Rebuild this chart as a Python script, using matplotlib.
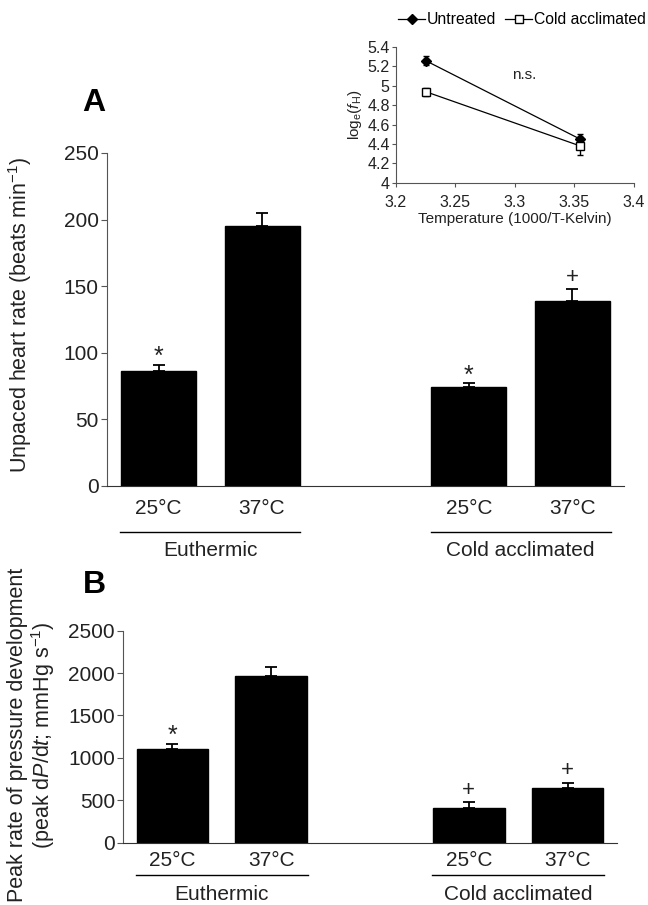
import matplotlib
matplotlib.use("Agg")
import matplotlib.pyplot as plt
from matplotlib.lines import Line2D
from matplotlib.transforms import ScaledTranslation
import numpy as np

plt.rcParams['font.family'] = ['Liberation Sans', 'DejaVu Sans']
plt.rcParams['mathtext.fontset'] = 'custom'
plt.rcParams['mathtext.rm'] = 'Liberation Sans'
plt.rcParams['mathtext.it'] = 'Liberation Sans:italic'

# ---- data ----
temps = ["25°C", "37°C", "25°C", "37°C"]
groups = ["Euthermic", "Cold acclimated"]
positions = [0, 1, 3, 4]

hr_mean = [86, 195, 74, 139]
hr_err = [5, 10, 3, 9]
hr_marks = ["*", "", "*", "+"]

dpdt_mean = [1108, 1970, 413, 641]
dpdt_err = [59, 105, 67, 67]
dpdt_marks = ["*", "", "+", "+"]

inset_x = [3.225, 3.355]
untreated_y = [5.26, 4.45]
untreated_err = [0.05, 0.05]
cold_y = [4.94, 4.38]
cold_err = [0.04, 0.09]

fig = plt.figure(figsize=(6.48, 9.05), dpi=100)
TXT = '#222222'


def px(v):
    return v / 100.0


def bar_panel(ax, means, errs, marks, ymax, ystep, off_tick, off_line, off_grp):
    ax.bar(positions, means, width=0.725, color='black', edgecolor='black', zorder=2)
    ax.errorbar(positions, means, yerr=[np.zeros(len(errs)), errs], fmt='none',
                ecolor='black', elinewidth=1.3, capsize=4.5, capthick=1.3, zorder=1)
    for p, m, e, s in zip(positions, means, errs, marks):
        if s == "*":
            ax.annotate(s, (p, m + e), xytext=(0, 0.5), textcoords='offset points',
                        ha='center', va='baseline', fontsize=18, color=TXT)
        elif s == "+":
            ax.annotate(s, (p, m + e), xytext=(0, 4.5), textcoords='offset points',
                        ha='center', va='baseline', fontsize=16, color=TXT)
    ax.set_xlim(-0.5, 4.5)
    ax.set_ylim(0, ymax)
    ax.set_yticks(np.arange(0, ymax + 1, ystep))
    ax.set_xticks(positions)
    ax.set_xticklabels(temps, fontsize=15, color=TXT)
    for lbl in ax.get_xticklabels():
        lbl.set_va('center')
    ax.tick_params(axis='x', length=0, pad=off_tick * 0.72)
    ax.tick_params(axis='y', labelsize=15, length=4.5, pad=1.5, direction='out',
                   colors='#555555', labelcolor=TXT)
    for s in ['top', 'right']:
        ax.spines[s].set_visible(False)
    ax.spines['left'].set_color('#555555')
    ax.spines['bottom'].set_color('#333333')
    trans = ax.get_xaxis_transform()
    for gi, (a, b) in enumerate([(0, 1), (3, 4)]):
        x0, x1 = a - 0.37, b + 0.37
        ax.plot([x0, x1], [0, 0], color='black', lw=1.0, clip_on=False,
                transform=trans + ScaledTranslation(0, -px(off_line), fig.dpi_scale_trans))
        ax.text((a + b) / 2, 0, groups[gi], ha='center', va='center', fontsize=15, color=TXT,
                transform=trans + ScaledTranslation(0, -px(off_grp), fig.dpi_scale_trans))


# Panel A
axA = fig.add_axes([0.165, 0.463, 0.798, 0.368])
bar_panel(axA, hr_mean, hr_err, hr_marks, 250, 50, 23, 46, 65)
fig.text(20 / 648, 1 - 315 / 905, "Unpaced heart rate (beats min$^{-1}$)", rotation=90,
         ha='center', va='center', fontsize=15.5, color=TXT)
fig.text(94 / 648, 1 - 103 / 905, "A", fontsize=23, fontweight='bold', ha='center', va='center')

# Panel B
axB = fig.add_axes([0.190, 0.0689, 0.762, 0.2342])
bar_panel(axB, dpdt_mean, dpdt_err, dpdt_marks, 2500, 500, 18, 32, 52)
fig.text(32 / 648, 1 - 735 / 905,
         "Peak rate of pressure development\n(peak d$\\mathit{P}$/d$\\mathit{t}$; mmHg s$^{-1}$)",
         rotation=90, ha='center', va='center', fontsize=15.5, color=TXT,
         linespacing=1.05, multialignment='center')
fig.text(94 / 648, 1 - 585 / 905, "B", fontsize=23, fontweight='bold', ha='center', va='center')

# Inset
axI = fig.add_axes([0.611, 0.798, 0.367, 0.150])
axI.errorbar(inset_x, untreated_y, yerr=untreated_err, fmt='-D', color='black', ms=5,
             mfc='black', lw=0.9, elinewidth=1.0, capsize=2.5)
axI.errorbar(inset_x, cold_y, yerr=cold_err, fmt='-s', color='black', ms=6,
             mfc='white', lw=0.9, elinewidth=1.0, capsize=2.5)
axI.set_xlim(3.2, 3.4)
axI.set_ylim(4.0, 5.4)
axI.set_xticks([3.2, 3.25, 3.3, 3.35, 3.4])
axI.set_xticklabels(["3.2", "3.25", "3.3", "3.35", "3.4"])
yt = [4.0, 4.2, 4.4, 4.6, 4.8, 5.0, 5.2, 5.4]
axI.set_yticks(yt)
axI.set_yticklabels(["4", "4.2", "4.4", "4.6", "4.8", "5", "5.2", "5.4"])
axI.tick_params(labelsize=11.5, length=3, direction='out', pad=1.5, colors='#555555',
                labelcolor=TXT)
axI.tick_params(axis='x', pad=5.5)
for s in ['top', 'right']:
    axI.spines[s].set_visible(False)
axI.spines['left'].set_color('#555555')
axI.spines['bottom'].set_color('#555555')
axI.set_xlabel("Temperature (1000/T-Kelvin)", fontsize=11, labelpad=1.5, color=TXT)
axI.set_ylabel("log$_\\mathregular{e}$($\\mathit{f}_\\mathregular{H}$)", fontsize=11,
               labelpad=2, color=TXT)
axI.text(3.308, 5.11, "n.s.", fontsize=11, ha='center', va='center', color=TXT)
handles = [
    Line2D([], [], color='black', lw=0.9, marker='D', ms=5, mfc='black'),
    Line2D([], [], color='black', lw=0.9, marker='s', ms=6, mfc='white'),
]
fig.legend(handles, ["Untreated", "Cold acclimated"], loc='center',
           bbox_to_anchor=(522 / 648, 1 - 20 / 905), ncol=2, frameon=False,
           fontsize=11.3, handlelength=1.7, handletextpad=0.1, columnspacing=0.6,
           borderaxespad=0, borderpad=0)

fig.savefig("out.png", dpi=100)
